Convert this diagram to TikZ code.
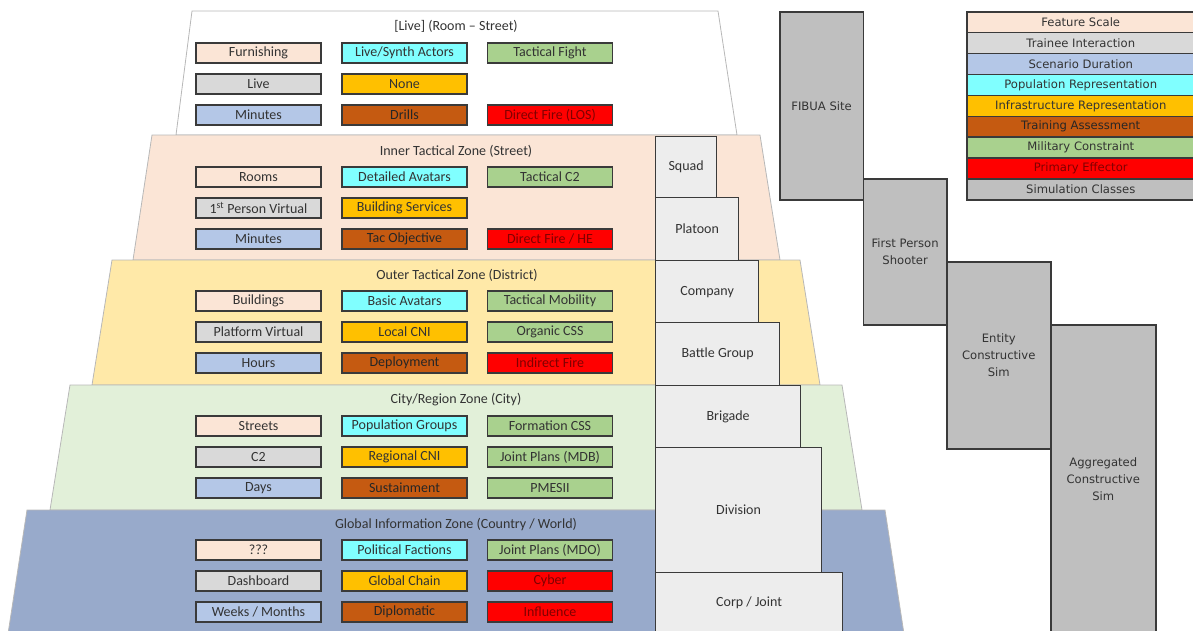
\documentclass[tikz,border=0pt]{standalone}
\usepackage{fontspec}
\setmainfont{Carlito}
\newfontfamily\legfont{DejaVu Sans}
\definecolor{cFS}{HTML}{FBE5D6}
\definecolor{cTI}{HTML}{D9D9D9}
\definecolor{cSD}{HTML}{B4C7E7}
\definecolor{cPR}{HTML}{80FFFF}
\definecolor{cIR}{HTML}{FFC000}
\definecolor{cTA}{HTML}{C55A11}
\definecolor{cMC}{HTML}{A9D18E}
\definecolor{cPE}{HTML}{FF0000}
\definecolor{cSC}{HTML}{BFBFBF}
\definecolor{zPeach}{HTML}{FBE5D6}
\definecolor{zYel}{HTML}{FFE9A8}
\definecolor{zGrn}{HTML}{E2F0D9}
\definecolor{zBlu}{HTML}{98AACB}
\definecolor{unitfill}{HTML}{EDEDED}
\definecolor{boxline}{HTML}{3A3A3A}
\definecolor{txt}{HTML}{333333}
\definecolor{redtxt}{HTML}{800000}
\tikzset{
  zone/.style={draw=black!28, line width=0.8pt},
  ztitle/.style={font=\fontsize{14}{16}\selectfont, text=txt, inner sep=0pt},
  cell/.style={draw=boxline, line width=1.5pt, minimum width=125pt, minimum height=20pt,
    inner sep=0pt, font=\fontsize{14}{16}\selectfont, text=txt},
  fs/.style={cell, fill=cFS},
  ti/.style={cell, fill=cTI},
  sd/.style={cell, fill=cSD},
  pr/.style={cell, fill=cPR},
  ir/.style={cell, fill=cIR},
  ta/.style={cell, fill=cTA, text=black!85},
  mc/.style={cell, fill=cMC},
  pe/.style={cell, fill=cPE, text=redtxt},
  unit/.style={draw=boxline, fill=unitfill, line width=1.2pt, anchor=north west,
    inner sep=0pt, font=\fontsize{14}{16}\selectfont, text=txt},
  sim/.style={draw=boxline, fill=cSC, line width=1.5pt, anchor=north west, inner sep=0pt,
    align=center, font=\legfont\fontsize{11.6}{17}\selectfont, text=txt},
  leg/.style={draw=boxline, line width=1.5pt, minimum width=228pt, minimum height=20.9pt,
    anchor=north west, inner sep=0pt, font=\legfont\fontsize{11.6}{14}\selectfont, text=txt},
}
\begin{document}
\begin{tikzpicture}[x=1pt,y=-1pt]
\useasboundingbox (0,0) rectangle (1193,630);
% zones
\path[zone, fill=white]  (192,11) -- (718,11) -- (737,135) -- (176,135) -- cycle;
\path[zone, fill=zPeach] (152,135) -- (760,135) -- (780,260) -- (133,260) -- cycle;
\path[zone, fill=zYel]   (112,260) -- (800,260) -- (820,385) -- (92,385) -- cycle;
\path[zone, fill=zGrn]   (70,385) -- (842,385) -- (862,510) -- (50,510) -- cycle;
\path[zone, fill=zBlu]   (27,510) -- (885,510) -- (904,634) -- (8,634) -- cycle;
% zone titles
\node[ztitle] (t0) at (456,26.5) {[Live] (Room – Street)};
\node[ztitle] (t1) at (456,151) {Inner Tactical Zone (Street)};
\node[ztitle] (t2) at (457,275) {Outer Tactical Zone (District)};
\node[ztitle] (t3) at (456,400) {City/Region Zone (City)};
\node[ztitle] (t4) at (456,524) {Global Information Zone (Country / World)};
% zone 0
\node[fs] (a11) at (258.5,53) {Furnishing};
\node[pr] (a12) at (404.5,53) {Live/Synth Actors};
\node[mc] (a13) at (550,53) {Tactical Fight};
\node[ti] (a21) at (258.5,84) {Live};
\node[ir] (a22) at (404.5,84) {None};
\node[sd] (a31) at (258.5,115) {Minutes};
\node[ta] (a32) at (404.5,115) {Drills};
\node[pe] (a33) at (550,115) {Direct Fire (LOS)};
% zone 1
\node[fs] (b11) at (258.5,177) {Rooms};
\node[pr] (b12) at (404.5,177) {Detailed Avatars};
\node[mc] (b13) at (550,177) {Tactical C2};
\node[ti] (b21) at (258.5,208) {1\textsuperscript{st} Person Virtual};
\node[ir] (b22) at (404.5,208) {Building Services};
\node[sd] (b31) at (258.5,239) {Minutes};
\node[ta] (b32) at (404.5,239) {Tac Objective};
\node[pe] (b33) at (550,239) {Direct Fire / HE};
% zone 2
\node[fs] (c11) at (258.5,301) {Buildings};
\node[pr] (c12) at (404.5,301) {Basic Avatars};
\node[mc] (c13) at (550,301) {Tactical Mobility};
\node[ti] (c21) at (258.5,332) {Platform Virtual};
\node[ir] (c22) at (404.5,332) {Local CNI};
\node[mc] (c23) at (550,332) {Organic CSS};
\node[sd] (c31) at (258.5,363) {Hours};
\node[ta] (c32) at (404.5,363) {Deployment};
\node[pe] (c33) at (550,363) {Indirect Fire};
% zone 3
\node[fs] (d11) at (258.5,426) {Streets};
\node[pr] (d12) at (404.5,426) {Population Groups};
\node[mc] (d13) at (550,426) {Formation CSS};
\node[ti] (d21) at (258.5,457) {C2};
\node[ir] (d22) at (404.5,457) {Regional CNI};
\node[mc] (d23) at (550,457) {Joint Plans (MDB)};
\node[sd] (d31) at (258.5,488) {Days};
\node[ta] (d32) at (404.5,488) {Sustainment};
\node[mc] (d33) at (550,488) {PMESII};
% zone 4
\node[fs] (e11) at (258.5,550) {???};
\node[pr] (e12) at (404.5,550) {Political Factions};
\node[mc] (e13) at (550,550) {Joint Plans (MDO)};
\node[ti] (e21) at (258.5,581) {Dashboard};
\node[ir] (e22) at (404.5,581) {Global Chain};
\node[pe] (e23) at (550,581) {Cyber};
\node[sd] (e31) at (258.5,612) {Weeks / Months};
\node[ta] (e32) at (404.5,612) {Diplomatic};
\node[pe] (e33) at (550,612) {Influence};
% units
\node[unit, minimum width=61pt,  minimum height=61pt]  (squad)   at (655,136) {Squad};
\node[unit, minimum width=83pt,  minimum height=63pt]  (platoon) at (655,197) {Platoon};
\node[unit, minimum width=103pt, minimum height=62pt]  (company) at (655,260) {Company};
\node[unit, minimum width=124pt, minimum height=63pt]  (bg)      at (655,322) {Battle Group};
\node[unit, minimum width=145pt, minimum height=62pt]  (brigade) at (655,385) {Brigade};
\node[unit, minimum width=166pt, minimum height=125pt] (division) at (655,447) {Division};
\node[unit, minimum width=187pt, minimum height=61pt]  (corp)    at (655,572) {Corp / Joint};
% simulation classes
\node[sim, minimum width=83.7pt, minimum height=188pt] (fibua) at (779,11) {FIBUA Site};
\node[sim, minimum width=83.3pt, minimum height=146pt] (fps) at (862.7,178) {First Person\\Shooter};
\node[sim, minimum width=104pt, minimum height=187pt] (entity) at (946,261) {Entity\\Constructive\\Sim};
\node[sim, minimum width=105pt, minimum height=308pt] (agg) at (1050,324) {Aggregated\\Constructive\\Sim};
% legend
\node[leg, fill=cFS] (l1) at (966,11) {Feature Scale};
\node[leg, fill=cTI] (l2) at (966,31.9) {Trainee Interaction};
\node[leg, fill=cSD] (l3) at (966,52.8) {Scenario Duration};
\node[leg, fill=cPR] (l4) at (966,73.7) {Population Representation};
\node[leg, fill=cIR] (l5) at (966,94.6) {Infrastructure Representation};
\node[leg, fill=cTA, text=black!85] (l6) at (966,115.5) {Training Assessment};
\node[leg, fill=cMC] (l7) at (966,136.4) {Military Constraint};
\node[leg, fill=cPE, text=redtxt] (l8) at (966,157.3) {Primary Effector};
\node[leg, fill=cSC] (l9) at (966,178.2) {Simulation Classes};
\end{tikzpicture}
\end{document}
